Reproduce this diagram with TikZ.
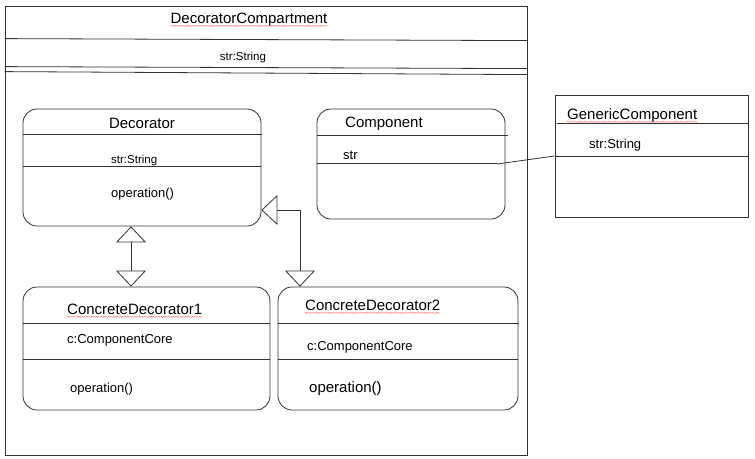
\documentclass[tikz,border=0pt]{standalone}
\usepackage{fontspec}
\setmainfont{Liberation Sans}
\usetikzlibrary{arrows.meta,decorations.pathmorphing}
\tikzset{
	>=latex,
}
\tikzstyle{cls}=[draw=black!80,line width=.8pt,rounded corners=14pt,inner sep=0pt]
\tikzstyle{plainbox}=[draw=black!80,line width=.8pt,inner sep=0pt]
\tikzstyle{divider}=[black!80,line width=.8pt]
\tikzstyle{txt}=[inner sep=0pt,anchor=west,text depth=0pt,text height=9.3pt,font=\fontsize{13}{15}\selectfont]
\tikzstyle{small}=[inner sep=0pt,anchor=west,text depth=0pt,text height=8.2pt,font=\fontsize{11.5}{14}\selectfont]
\tikzstyle{ttl}=[inner sep=0pt,anchor=west,text depth=0pt,text height=10.7pt,font=\fontsize{15}{18}\selectfont]
\tikzstyle{typo}=[red!55,line width=.4pt,decorate,decoration={snake,
    amplitude=.6pt,
    segment length=2.4pt}]
\tikzstyle{inh}=[black!80,line width=.8pt,
    {Triangle[open,width=30pt,length=16pt]}-{Triangle[open,width=30pt,length=16pt]}]

\begin{document}
\begin{tikzpicture}[x=1pt,y=-1pt]
      \fill[white] (0,0) rectangle (755,458);
      \useasboundingbox (0,0) rectangle (755,458);
      % boxes
      \node[plainbox,minimum width=522pt,minimum height=449pt] (cmpt) at (266,230.5) {};
      \node[cls,minimum width=238pt,minimum height=117pt] (dec) at (142,167.5) {};
      \node[cls,minimum width=188pt,minimum height=110pt] (comp) at (411,164) {};
      \node[plainbox,minimum width=193pt,minimum height=122pt] (gc) at (651.5,156) {};
      \node[cls,minimum width=247pt,minimum height=123pt] (cd1) at (146.5,348.5) {};
      \node[cls,minimum width=240pt,minimum height=123pt] (cd2) at (398,348.5) {};
      % compartment lines
      \draw[divider] ([yshift=-33pt]cmpt.north west)--([yshift=-35pt]cmpt.north east);
      \draw[divider] ([yshift=-61pt]cmpt.north west)--([yshift=-63pt]cmpt.north east);
      \draw[divider] ([yshift=-66pt]cmpt.north west)--([yshift=-69pt]cmpt.north east);
      \draw[divider] ([yshift=-26pt]dec.north west)--([yshift=-26pt,xshift=1pt]dec.north east);
      \draw[divider] ([yshift=-58pt]dec.north west)--([yshift=-58pt]dec.north east);
      \draw[divider] ([yshift=-27pt]comp.north west)--([yshift=-27pt,xshift=3pt]comp.north east);
      \draw[divider] ([yshift=-55pt]comp.north west)--([yshift=-55pt,xshift=-8pt]comp.north east);
      \draw[divider] ([yshift=-29pt,xshift=2pt]gc.north west)--([yshift=-29pt]gc.north east);
      \draw[divider] (gc.west)--(gc.east);
      \draw[divider] ([yshift=-37pt]cd1.north west)--([yshift=-37pt]cd1.north east);
      \draw[divider] ([yshift=-73pt]cd1.north west)--([yshift=-73pt]cd1.north east);
      \draw[divider] ([yshift=-37pt]cd2.north west)--([yshift=-37pt,xshift=1pt]cd2.north east);
      \draw[divider] ([yshift=-73pt]cd2.north west)--([yshift=-73pt]cd2.north east);
      % texts
      \node[ttl,anchor=center] (t0) at (249,18) {DecoratorCompartment};
      \node[small,anchor=center] (a0) at (243,56) {str:String};
      \node[ttl,anchor=center] (t1) at (142,123) {Decorator};
      \node[small] (a1) at (111,159) {str:String};
      \node[txt] (o1) at (111,193) {operation()};
      \node[ttl] (t2) at (345,122) {Component};
      \node[txt] (a2) at (343,155) {str};
      \node[ttl] (t3) at (567,114) {GenericComponent};
      \node[txt] (a3) at (589,144) {str:String};
      \node[ttl] (t4) at (67,309) {ConcreteDecorator1};
      \node[txt] (a4) at (67,339) {c:ComponentCore};
      \node[txt] (o4) at (70,388) {operation()};
      \node[ttl] (t5) at (305,305) {ConcreteDecorator2};
      \node[txt] (a5) at (307,346) {c:ComponentCore};
      \node[ttl] (o5) at (309,387) {operation()};
      \foreach \t in {t0,t3,t4,t5}
        \draw[typo] ([yshift=-2.5pt]\t.base west)--([yshift=-2.5pt]\t.base east);
      % connectors
      \draw[inh] ([xshift=-11pt]dec.south)--([xshift=-11pt]dec.south |- cd1.north);
      \draw[inh] ([yshift=-42.5pt]dec.east)-|([xshift=-98pt]cd2.north);
      \draw[divider] ([xshift=86pt]comp.center)--(gc.west);
\end{tikzpicture}
\end{document}
